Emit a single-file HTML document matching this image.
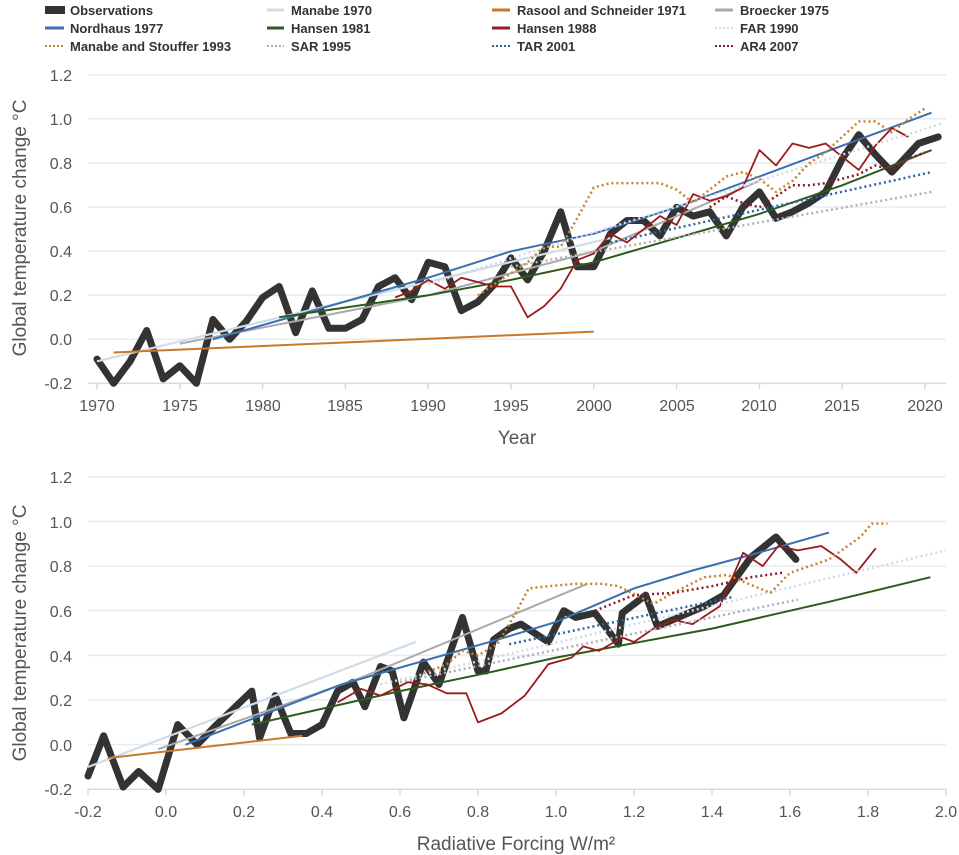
<!DOCTYPE html>
<html><head><meta charset="utf-8"><style>
body{margin:0;background:#fff;width:959px;height:855px;overflow:hidden;font-family:"Liberation Sans",sans-serif}
svg{display:block}
.lg{font:bold 13px "Liberation Sans",sans-serif;fill:#333}
.tk{font:16px "Liberation Sans",sans-serif;fill:#555}
.ti{font:19px "Liberation Sans",sans-serif;fill:#555}
</style></head><body>
<svg id="s" width="959" height="855" viewBox="0 0 959 855">
<g>
<rect x="45" y="6" width="20" height="8" fill="#333"/><text class="lg" x="70" y="15">Observations</text>
<line x1="45" y1="28" x2="64" y2="28" stroke="#3a6fb0" stroke-width="3"/><text class="lg" x="70" y="33">Nordhaus 1977</text>
<line x1="45" y1="46" x2="64" y2="46" stroke="#c9822e" stroke-width="2" stroke-dasharray="2 2"/><text class="lg" x="70" y="51">Manabe and Stouffer 1993</text>
<line x1="267" y1="10" x2="284" y2="10" stroke="#cfdde9" stroke-width="3"/><text class="lg" x="291" y="15">Manabe 1970</text>
<line x1="267" y1="28" x2="284" y2="28" stroke="#2e5a1c" stroke-width="3"/><text class="lg" x="291" y="33">Hansen 1981</text>
<line x1="267" y1="46" x2="284" y2="46" stroke="#b0b0b0" stroke-width="2" stroke-dasharray="2 2"/><text class="lg" x="291" y="51">SAR 1995</text>
<line x1="492" y1="10" x2="510" y2="10" stroke="#c9782a" stroke-width="3"/><text class="lg" x="517" y="15">Rasool and Schneider 1971</text>
<line x1="492" y1="28" x2="510" y2="28" stroke="#9b1b1b" stroke-width="3"/><text class="lg" x="517" y="33">Hansen 1988</text>
<line x1="492" y1="46" x2="510" y2="46" stroke="#2b65a8" stroke-width="2" stroke-dasharray="2 2"/><text class="lg" x="517" y="51">TAR 2001</text>
<line x1="715" y1="10" x2="733" y2="10" stroke="#aaaaaa" stroke-width="3"/><text class="lg" x="740" y="15">Broecker 1975</text>
<line x1="715" y1="28" x2="733" y2="28" stroke="#cfdde9" stroke-width="2" stroke-dasharray="2 2"/><text class="lg" x="740" y="33">FAR 1990</text>
<line x1="715" y1="46" x2="733" y2="46" stroke="#8e1b2a" stroke-width="2" stroke-dasharray="2 2"/><text class="lg" x="740" y="51">AR4 2007</text>
</g>
<g id="gtop"></g>
<g id="gbot"></g>
<g class="tk" text-anchor="end">
<text x="72" y="81">1.2</text><text x="72" y="125">1.0</text><text x="72" y="169">0.8</text><text x="72" y="213">0.6</text><text x="72" y="257">0.4</text><text x="72" y="301">0.2</text><text x="72" y="345">0.0</text><text x="72" y="389">-0.2</text>
</g>
<g class="tk" text-anchor="middle">
<text x="97" y="411">1970</text><text x="180" y="411">1975</text><text x="263" y="411">1980</text><text x="345" y="411">1985</text><text x="428" y="411">1990</text><text x="511" y="411">1995</text><text x="594" y="411">2000</text><text x="677" y="411">2005</text><text x="759" y="411">2010</text><text x="842" y="411">2015</text><text x="925" y="411">2020</text>
</g>
<text class="ti" x="517" y="444" text-anchor="middle">Year</text>
<text class="ti" transform="translate(26,228) rotate(-90)" text-anchor="middle">Global temperature change °C</text>
<g class="tk" text-anchor="end">
<text x="72" y="483">1.2</text><text x="72" y="528">1.0</text><text x="72" y="572">0.8</text><text x="72" y="617">0.6</text><text x="72" y="662">0.4</text><text x="72" y="706">0.2</text><text x="72" y="751">0.0</text><text x="72" y="795">-0.2</text>
</g>
<g class="tk" text-anchor="middle">
<text x="88" y="817">-0.2</text><text x="166" y="817">0.0</text><text x="244" y="817">0.2</text><text x="322" y="817">0.4</text><text x="400" y="817">0.6</text><text x="478" y="817">0.8</text><text x="556" y="817">1.0</text><text x="634" y="817">1.2</text><text x="712" y="817">1.4</text><text x="790" y="817">1.6</text><text x="868" y="817">1.8</text><text x="946" y="817">2.0</text>
</g>
<text class="ti" x="516" y="850" text-anchor="middle">Radiative Forcing W/m²</text>
<text class="ti" transform="translate(26,633) rotate(-90)" text-anchor="middle">Global temperature change °C</text>
</svg>
<script>
(function(){
var NS="http://www.w3.org/2000/svg";
function el(p,t,a){var e=document.createElementNS(NS,t);for(var k in a)e.setAttribute(k,a[k]);p.appendChild(e);return e;}
function frame(g,y0,dy,ticks){
 for(var i=0;i<8;i++){var y=y0+i*dy;el(g,"line",{x1:88,x2:946,y1:y,y2:y,stroke:i==7?"#d4dbe3":"#e8ebef","stroke-width":1.5});}
 ticks.forEach(function(x){el(g,"line",{x1:x,x2:x,y1:y0+7*dy,y2:y0+7*dy+6,stroke:"#d4dbe3","stroke-width":1.5});});
}
var C={obs:["#333",7,null],man70:["#cfdde9",2.2,null],ras:["#c9782a",2,null],bro:["#aaaaaa",2,null],nor:["#3a6fb0",2,null],h81:["#2e5a1c",2,null],h88:["#9b1b1b",1.8,null],far:["#cfdde9",2.5,"2 3"],ms:["#c9822e",2.5,"2 3"],sar:["#b0b0b0",2.5,"2 3"],tar:["#2b65a8",2.5,"2 3"],ar4:["#8e1b2a",2.5,"2 3"]};
function draw(g,data,fx,fy){
 ["obs","man70","ras","bro","nor","h81","h88","far","ms","sar","tar","ar4"].forEach(function(k){
  var d=data[k];if(!d)return;var c=C[k];
  var pts=d.map(function(p){return (fx(p[0])).toFixed(1)+","+(fy(p[1])).toFixed(1);}).join(" ");
  var a={points:pts,fill:"none",stroke:c[0],"stroke-width":c[1],"stroke-linejoin":"round","stroke-linecap":k=="obs"?"round":"butt"};
  if(c[2])a["stroke-dasharray"]=c[2];
  el(g,"polyline",a);
 });
}
var gT=document.getElementById("gtop");
var tt=[];for(var y=1970;y<=2020;y+=5)tt.push(97+16.56*(y-1970));
frame(gT,74.7,44.1,tt);
var obsT=[-0.09,-0.2,-0.1,0.04,-0.18,-0.12,-0.2,0.09,0.0,0.08,0.19,0.24,0.03,0.22,0.05,0.05,0.09,0.24,0.28,0.18,0.35,0.33,0.13,0.17,0.25,0.37,0.27,0.40,0.58,0.33,0.33,0.48,0.54,0.54,0.47,0.60,0.56,0.58,0.47,0.60,0.67,0.55,0.58,0.62,0.67,0.82,0.93,0.84,0.76,0.89,0.92];
var h88=[0.19,0.22,0.27,0.23,0.28,0.26,0.24,0.24,0.1,0.15,0.23,0.36,0.39,0.48,0.44,0.50,0.56,0.52,0.66,0.63,0.65,0.69,0.86,0.79,0.89,0.87,0.89,0.83,0.77,0.88,0.96,0.92];
var ms=[0.2,0.25,0.3,0.35,0.42,0.42,0.55,0.69,0.71,0.71,0.71,0.71,0.68,0.62,0.68,0.74,0.76,0.73,0.67,0.72,0.80,0.85,0.92,0.99,0.99,0.94,1.0,1.05];
var ar4=[0.6,0.65,0.62,0.6,0.65,0.7,0.7,0.71,0.73,0.75,0.79,0.77,0.82,0.85];
function seq(y0,a){return a.map(function(v,i){return [y0+i,v];});}
var obsTT=seq(1970,obsT);obsTT[obsTT.length-1][0]=2020.8;obsTT[obsTT.length-2][0]=2019.6;
draw(gT,{
 obs:obsTT,
 man70:[[1970,-0.1],[2001,0.46]],
 ras:[[1971,-0.06],[2000,0.035]],
 bro:[[1975,-0.02],[1990,0.2],[2000,0.4],[2010,0.72]],
 nor:[[1977,0],[1990,0.28],[1995,0.4],[2000,0.48],[2005,0.6],[2010,0.74],[2015,0.88],[2020.4,1.03]],
 h81:[[1981,0.1],[1990,0.2],[1995,0.27],[2000,0.35],[2005,0.46],[2010,0.57],[2015,0.7],[2020.4,0.86]],
 h88:seq(1988,h88),
 far:[[1990,0.25],[2021,0.98]],
 ms:seq(1993,ms),
 sar:[[1995,0.33],[2020.4,0.67]],
 tar:[[2001,0.44],[2020.4,0.76]],
 ar4:seq(2007,ar4)
},function(x){return 97+16.56*(x-1970);},function(v){return 339.3-220*v;});
var gB=document.getElementById("gbot");
var bt=[];for(var i=0;i<=11;i++)bt.push(88+78*i);
frame(gB,476.7,44.66,bt);
draw(gB,{
 obs:[[-0.2,-0.14],[-0.16,0.04],[-0.11,-0.19],[-0.07,-0.12],[-0.02,-0.2],[0.03,0.09],[0.08,0.0],[0.13,0.09],[0.22,0.24],[0.24,0.03],[0.28,0.22],[0.32,0.05],[0.36,0.05],[0.40,0.09],[0.44,0.24],[0.48,0.28],[0.51,0.17],[0.55,0.35],[0.58,0.33],[0.61,0.12],[0.66,0.37],[0.70,0.27],[0.76,0.57],[0.80,0.33],[0.82,0.33],[0.84,0.47],[0.88,0.52],[0.91,0.54],[0.98,0.46],[1.02,0.6],[1.05,0.57],[1.10,0.59],[1.16,0.45],[1.17,0.59],[1.23,0.67],[1.26,0.53],[1.30,0.56],[1.38,0.62],[1.43,0.67],[1.50,0.84],[1.564,0.93],[1.615,0.83]],
 man70:[[-0.2,-0.1],[0.64,0.46]],
 ras:[[-0.15,-0.06],[0.35,0.04]],
 bro:[[-0.02,-0.02],[0.5,0.3],[1.08,0.72]],
 nor:[[0.05,0],[0.45,0.27],[0.85,0.47],[1.0,0.55],[1.2,0.7],[1.35,0.78],[1.5,0.85],[1.7,0.95]],
 h81:[[0.22,0.09],[0.6,0.24],[0.82,0.32],[1.0,0.39],[1.4,0.52],[1.7,0.64],[1.96,0.75]],
 h88:[[0.44,0.19],[0.5,0.25],[0.55,0.22],[0.62,0.28],[0.67,0.27],[0.72,0.23],[0.77,0.23],[0.8,0.1],[0.86,0.14],[0.92,0.22],[0.98,0.36],[1.04,0.39],[1.07,0.44],[1.11,0.42],[1.17,0.48],[1.2,0.46],[1.25,0.52],[1.3,0.56],[1.35,0.54],[1.42,0.62],[1.48,0.86],[1.53,0.8],[1.57,0.89],[1.62,0.87],[1.68,0.89],[1.73,0.83],[1.77,0.77],[1.82,0.88]],
 far:[[0.55,0.27],[2.0,0.87]],
 ms:[[0.66,0.32],[0.72,0.36],[0.76,0.42],[0.8,0.4],[0.85,0.45],[0.9,0.6],[0.93,0.7],[0.98,0.71],[1.05,0.72],[1.12,0.72],[1.16,0.71],[1.25,0.63],[1.3,0.68],[1.38,0.75],[1.44,0.76],[1.48,0.73],[1.55,0.68],[1.6,0.77],[1.7,0.83],[1.78,0.93],[1.81,0.99],[1.85,0.99]],
 sar:[[0.6,0.28],[1.62,0.65]],
 tar:[[0.88,0.45],[1.45,0.66]],
 ar4:[[1.1,0.6],[1.2,0.67],[1.3,0.68],[1.4,0.71],[1.5,0.75],[1.58,0.77]]
},function(x){return 88+390*(x+0.2);},function(v){return 744.7-223.3*v;});
})();
</script>
</body></html>
